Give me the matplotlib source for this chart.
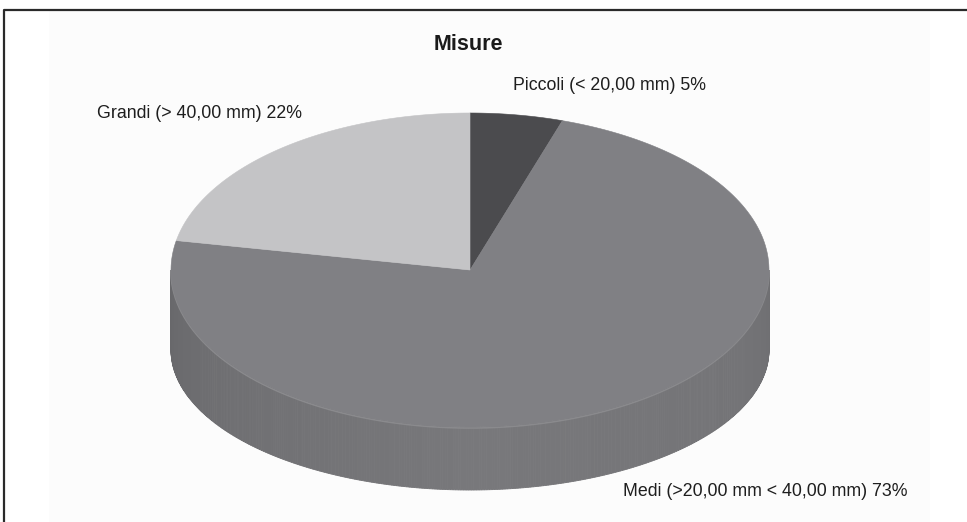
import numpy as np
import matplotlib
matplotlib.use("Agg")
import matplotlib.pyplot as plt
from matplotlib.patches import Polygon, Rectangle

# Slice data (clockwise from 12 o'clock, as in the spreadsheet chart)
labels = ["Piccoli (< 20,00 mm)", "Medi (>20,00 mm < 40,00 mm)", "Grandi (> 40,00 mm)"]
shares = [5, 73, 22]
top_colors = ["#4b4b4e", "#808084", "#c4c4c6"]
label_pos = [(513, 85), (623, 491), (97, 113)]
title = "Misure"

# Pie geometry in pixels (bottom rim drawn with a bit of perspective)
CX, CY = 470, 270
RX, RY = 299, 157
BOT_DY, BOT_RY = 80, 140
FONT = ["Liberation Sans", "DejaVu Sans"]


def ellipse_pts(t0, t1, dy=0.0, ry=RY, n=200):
    t = np.radians(np.linspace(t0, t1, n))
    return np.column_stack([CX + RX * np.sin(t), CY - ry * np.cos(t) + dy])


def side_shade(theta):
    # darker towards the left edge, lightest near the front
    u = (theta - 90) / 180.0
    v = np.interp(u, [0, 0.15, 0.5, 0.85, 1], [111, 116, 120, 110, 104])
    return (v / 255, v / 255, (v + 3) / 255)


fig = plt.figure(figsize=(9.67, 5.22), dpi=100)
ax = fig.add_axes([0, 0, 1, 1])
ax.set_xlim(0, 967)
ax.set_ylim(522, 0)
ax.axis("off")

# chart area tint and outer frame
ax.add_patch(Rectangle((49, 11), 881, 511, facecolor="#fcfcfc", edgecolor="none", zorder=0))
ax.plot([4, 4, 967], [522, 10, 10], color="#2a2a2a", lw=1.6, zorder=5)

bounds = np.concatenate([[0], np.cumsum(shares)]) / np.sum(shares) * 360

# side wall: only the front half (90..270 degrees) is visible
for i in range(len(shares)):
    s, e = max(bounds[i], 90), min(bounds[i + 1], 270)
    if e <= s:
        continue
    steps = np.linspace(s, e, int((e - s) * 2) + 2)
    for t0, t1 in zip(steps[:-1], steps[1:]):
        top = ellipse_pts(t0, t1, n=4)
        bot = ellipse_pts(t1, t0, dy=BOT_DY, ry=BOT_RY, n=4)
        c = side_shade((t0 + t1) / 2)
        ax.add_patch(Polygon(np.vstack([top, bot]), closed=True,
                             facecolor=c, edgecolor=c, lw=0.6, zorder=1))

# rim highlight where the top face meets the side
rim = ellipse_pts(90, 270)
ax.plot(rim[:, 0], rim[:, 1] + 1, color="#8a8a8d", lw=1.2, zorder=2)

# top face wedges
for i, col in enumerate(top_colors):
    arc = ellipse_pts(bounds[i], bounds[i + 1])
    pts = np.vstack([[CX, CY], arc])
    ax.add_patch(Polygon(pts, closed=True, facecolor=col, edgecolor=col,
                         lw=0.4, zorder=3))

# labels
for lab, val, (x, y) in zip(labels, shares, label_pos):
    ax.text(x, y, f"{lab} {val}%", ha="left", va="center", fontsize=12.8,
            family=FONT, color="#1e1e1e", zorder=6)

ax.text(468, 44, title, ha="center", va="center", fontsize=15.5,
        fontweight="bold", family=FONT, color="#1a1a1a", zorder=6)

fig.savefig("out.png", dpi=100, facecolor="white")
